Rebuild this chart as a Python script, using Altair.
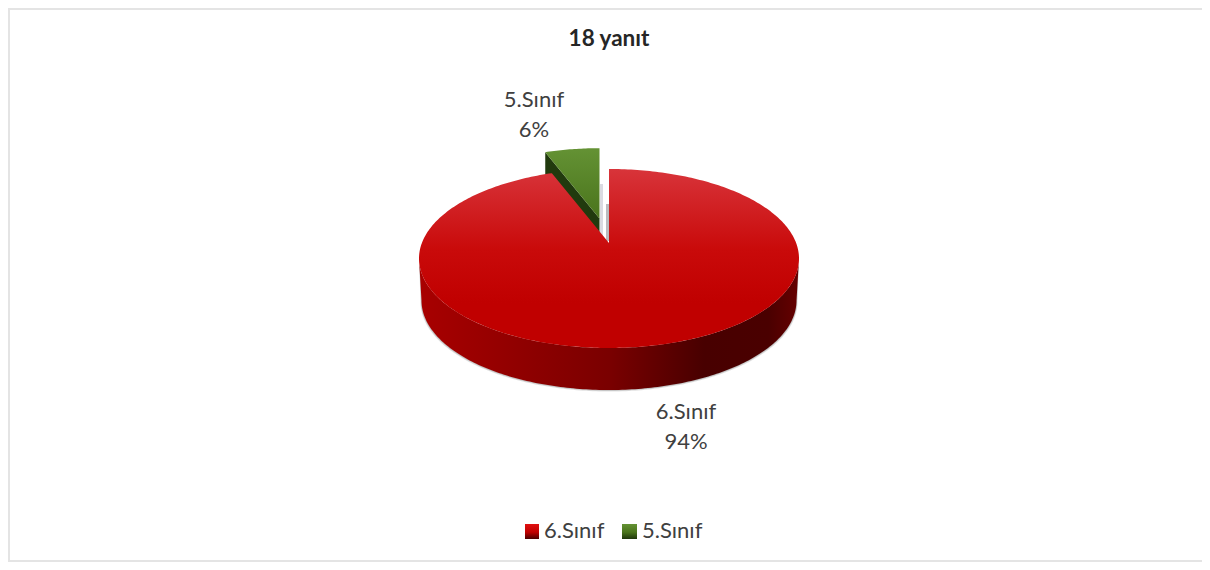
import numpy as np
import pandas as pd
import altair as alt

categories = ["6.Sınıf", "5.Sınıf"]
percents = [94, 6]
title_text = "18 yanıt"

FONT = "Lato"
TXT = "#404040"
W, H = 1194, 554
M = 8
xs = alt.Scale(domain=[M, M + W], range=[0, W])
ys = alt.Scale(domain=[M, M + H], range=[0, H])
X = lambda f="x": alt.X(f"{f}:Q", scale=xs, axis=None)
Y = lambda f="y": alt.Y(f"{f}:Q", scale=ys, axis=None)

# pie geometry
cx, cy, rx, ry, depth = 609.0, 258.5, 190.0, 89.5, 42.0
apex_y = 243.0
persp = 0.81  # the tilted view foreshortens the far rim
gap = percents[1] / sum(percents) * 360 * persp


def rim(t, ccx=cx, ccy=cy, arx=rx, ary=ry):
    t = np.radians(t)
    return ccx + arx * np.sin(t), ccy - ary * np.cos(t)


def poly(px, py, **mark):
    df = pd.DataFrame({"x": px, "y": py, "o": np.arange(len(px))})
    return alt.Chart(df).mark_line(strokeWidth=0, **mark).encode(
        x=X(), y=Y(), order="o:Q")


def grad(stops, x2=0, y2=1):
    return alt.Gradient(
        gradient="linear", x1=0, y1=0, x2=x2, y2=y2,
        stops=[alt.GradientStop(offset=o, color=c) for o, c in stops])


# frame
FRAME = "#e4e4e4"
frame_left = alt.Chart(pd.DataFrame({"x": [M + 1], "y": [M], "y2": [M + H - 1]})).mark_rule(
    color=FRAME, strokeWidth=2).encode(x=X(), y=Y(), y2="y2:Q")
frame_top = alt.Chart(pd.DataFrame({"y": [M + 1], "x": [M], "x2": [M + W]})).mark_rule(
    color=FRAME, strokeWidth=2).encode(x=X(), x2="x2:Q", y=Y())
frame_bot = alt.Chart(pd.DataFrame({"y": [M + H - 1], "x": [M], "x2": [M + W]})).mark_rule(
    color=FRAME, strokeWidth=2).encode(x=X(), x2="x2:Q", y=Y())

# side wall and its soft shadow
ts = np.linspace(90, 270, 181)
sx, sy = rim(ts)
bx, by = rim(ts[::-1], cx, cy + depth, rx - 2.5, ry)
wall_x = np.r_[sx, bx]
wall_y = np.r_[sy, by]
sh1 = poly(np.r_[sx, rim(ts[::-1], cx, cy + depth + 1.5, rx - 1.5, ry)[0]],
           np.r_[sy, rim(ts[::-1], cx, cy + depth + 1.5, rx - 1.5, ry)[1]],
           fill="#909090", opacity=0.28)
sh2 = poly(np.r_[sx, rim(ts[::-1], cx, cy + depth + 0.7, rx - 2, ry)[0]],
           np.r_[sy, rim(ts[::-1], cx, cy + depth + 0.7, rx - 2, ry)[1]],
           fill="#808080", opacity=0.35)
side = poly(wall_x, wall_y,
            fill=grad([(0, "#a80000"), (0.2, "#960000"), (0.5, "#7a0000"),
                       (0.75, "#480000"), (0.92, "#4a0000"), (1, "#660000")], x2=1, y2=0))

# red slice top
ta = np.linspace(0, 360 - gap, 361)
ax, ay = rim(ta)
red = poly(np.r_[cx, ax, cx], np.r_[apex_y, ay, apex_y],
           fill=grad([(0, "#d8343a"), (0.45, "#c90a0a"), (0.75, "#c00000"), (1, "#c00000")]))

# exploded green slice
gx0, gy0, gs = 599.5, 218.5, 0.95
gcx, gcy, grx, gry = gx0, gy0 + (cy - apex_y) * gs, rx * gs, ry * gs
tg = np.linspace(360 - gap, 360, 25)
gax, gay = rim(tg, gcx, gcy, grx, gry)
green_wall = poly(
    np.r_[gax[0], gx0, gx0, gax[0]],
    np.r_[gay[0], gy0, gy0 + 16, gay[0] + 24],
    fill="#213a0e",
)
green = poly(np.r_[gx0, gax, gx0], np.r_[gy0, gay, gy0],
             fill=grad([(0, "#649234"), (1, "#4a741c")]))

# faint shadows in the notch
notch = pd.DataFrame({"x": [600.0, 606.0], "x2": [603.0, 609.0],
                      "y": [184.0, 204.0], "y2": [240.0, 241.0],
                      "c": ["#d6d6de", "#b4b4b8"]})
notch_marks = alt.Chart(notch).mark_rect(opacity=0.9).encode(
    x=X(), x2="x2:Q", y=Y(), y2="y2:Q", color=alt.Color("c:N", scale=None))


# texts
def text(df, size=22, **kw):
    return alt.Chart(df).mark_text(font=FONT, fontSize=size, color=TXT, baseline="middle", **kw).encode(
        x=X(), y=Y(), text="t:N")


labels = pd.DataFrame({
    "x": [686, 686, 534, 534],
    "y": [412, 442, 100, 130],
    "t": [categories[0], f"{percents[0]}%", categories[1], f"{percents[1]}%"],
})
label_marks = text(labels, align="center")
title = text(pd.DataFrame({"x": [609], "y": [39], "t": [title_text]}), size=22.5,
             align="center", fontWeight="bold")
title = title.encode(color=alt.value("#262626"))

leg_text = text(pd.DataFrame({"x": [544, 642], "y": [531, 531], "t": categories}), align="left")
leg_red = alt.Chart(pd.DataFrame({"x": [525], "x2": [539], "y": [524], "y2": [539]})).mark_rect(
    fill=grad([(0, "#e01010"), (0.55, "#c00000"), (1, "#4a0000")])
).encode(x=X(), x2="x2:Q", y=Y(), y2="y2:Q")
leg_green = alt.Chart(pd.DataFrame({"x": [622], "x2": [637], "y": [524], "y2": [539]})).mark_rect(
    fill=grad([(0, "#649234"), (0.55, "#4a741c"), (1, "#1f360c")])
).encode(x=X(), x2="x2:Q", y=Y(), y2="y2:Q")

chart = alt.layer(
    frame_left, frame_top, frame_bot,
    notch_marks, sh1, sh2, side, green_wall, green, red,
    title, label_marks, leg_red, leg_green, leg_text,
).properties(
    width=W, height=H, padding=0, autosize=alt.AutoSizeParams(type="none"),
    background="white",
).configure_view(stroke=None)

chart.save("out.html", embed_options={"renderer": "svg", "actions": False})
